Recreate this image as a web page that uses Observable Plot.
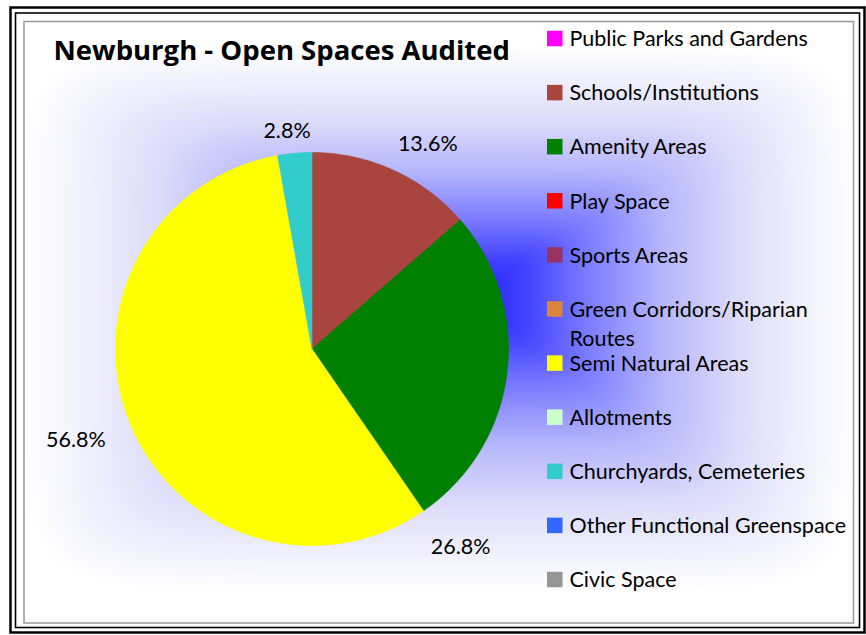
<!DOCTYPE html>
<html><head><meta charset="utf-8">
<script src="https://cdn.jsdelivr.net/npm/d3@7"></script>
<script src="https://cdn.jsdelivr.net/npm/@observablehq/plot@0.6"></script>
<style>html,body{margin:0;padding:0;background:#fff;} svg{display:block}</style>
</head><body><div id="chart"></div>
<script>
// ---- data ----
const categories = ["Public Parks and Gardens","Schools/Institutions","Amenity Areas","Play Space","Sports Areas","Green Corridors/Riparian Routes","Semi Natural Areas","Allotments","Churchyards, Cemeteries","Other Functional Greenspace","Civic Space"];
const shares = [0, 13.6, 26.8, 0, 0, 0, 56.8, 0, 2.8, 0, 0];
const colors = ["#FF00FF","#A9443F","#008000","#FF0000","#993366","#DC843C","#FFFF00","#CCFFCC","#33CCCC","#3366FF","#969696"];
const title = "Newburgh - Open Spaces Audited";

// ---- layout ----
const W = 866, H = 635;
const cx = 311.5, cy = 348.5, R = 196.5;
const labelShift = [0, 5, 46, 0, 0, 0, 1.3, 0, -1.5, 0, 0];      // degrees
const labelDist  = [1.2, 1.197, 1.262, 1.2, 1.2, 1.2, 1.287, 1.2, 1.117, 1.2, 1.2];
const font = "Lato, 'Open Sans', sans-serif";
const titleFont = "'Open Sans', Lato, sans-serif";
const legendX = 547, legendTextX = 569, legendY0 = 38.5, legendStep = 54.1, sw = 15.5;
const fs = 21.5, lineH = 29, maxChars = 28;

// background gradient (rectangular, from centre, slightly softened seams)
const gx0 = 24, gx1 = 853, gy0 = 21, gy1 = 622, gcx = 470, gcy = 295;
const ramp = d3.scaleLinear()
  .domain([0, 0.15, 0.3, 0.5, 0.7, 0.88, 1])
  .range(["#2020ff", "#4444ff", "#7a7aff", "#b6b6fc", "#dcdcfa", "#f2f2fd", "#ffffff"])
  .clamp(true);
function bg(x, y) {
  const tx = x < gcx ? (gcx - x) / (gcx - gx0) : (x - gcx) / (gx1 - gcx);
  const ty = 1.1 * (y < gcy ? (gcy - y) / (gcy - gy0) : (y - gcy) / (gy1 - gcy));
  const p = 8;
  return ramp(Math.pow(Math.pow(tx, p) + Math.pow(ty, p), 1 / p));
}

// pie geometry
const arcs = d3.pie().sort(null).value(d => d)(shares);
const slicePts = [];
const labels = [];
arcs.forEach((a, i) => {
  if (a.value <= 0) return;
  const steps = Math.max(4, Math.ceil((a.endAngle - a.startAngle) / (Math.PI / 360)));
  slicePts.push({k: i, x: cx, y: cy, fill: colors[i]});
  for (let s = 0; s <= steps; s++) {
    const t = a.startAngle + (a.endAngle - a.startAngle) * s / steps;
    slicePts.push({k: i, x: cx + R * Math.sin(t), y: cy - R * Math.cos(t), fill: colors[i]});
  }
  slicePts.push({k: i, x: cx, y: cy, fill: colors[i]});
  const mid = (a.startAngle + a.endAngle) / 2 + labelShift[i] * Math.PI / 180;
  const L = R * labelDist[i];
  labels.push({x: cx + L * Math.sin(mid), y: cy - L * Math.cos(mid), text: d3.format(".1f")(shares[i]) + "%"});
});

function wrap(s) {
  if (s.length <= maxChars) return s;
  const cut = s.lastIndexOf(" ", maxChars);
  return s.slice(0, cut) + "\n" + s.slice(cut + 1);
}
const legendRows = categories.map((c, i) => {
  const label = wrap(c);
  const lines = label.split("\n").length;
  const y = legendY0 + legendStep * i;
  return {label, y, ty: y - 2 + (lines - 1) * lineH / 2, color: colors[i]};
});

const marks = [];
if (Plot.raster) {
  marks.push(Plot.raster({x1: gx0, x2: gx1, y1: gy0, y2: gy1, fill: bg, pixelSize: 1}));
}
marks.push(
  Plot.frame({stroke: "#000", strokeWidth: 2.5, insetLeft: 10, insetTop: 7, insetRight: 2, insetBottom: 3}),
  Plot.frame({stroke: "#000", strokeWidth: 1.6, insetLeft: 15, insetTop: 12.5, insetRight: 7, insetBottom: 8}),
  Plot.frame({stroke: "#999", strokeWidth: 1.5, insetLeft: 23.5, insetTop: 21, insetRight: 13, insetBottom: 12.5}),
  Plot.line(slicePts, {x: "x", y: "y", z: "k", fill: "fill", stroke: "fill", strokeWidth: 0.6, curve: "linear"}),
  Plot.text(labels, {x: "x", y: "y", text: "text", fontSize: fs, fill: "#000", fontFamily: font, textAnchor: "middle"}),
  Plot.text([title], {x: () => 53, y: () => 51, text: d => d, textAnchor: "start", fontSize: 27.5, fontWeight: "bold", fill: "#000", fontFamily: titleFont}),
  Plot.rect(legendRows, {x1: () => legendX, x2: () => legendX + sw, y1: d => d.y - sw / 2, y2: d => d.y + sw / 2, fill: "color"}),
  Plot.text(legendRows, {x: () => legendTextX, y: "ty", text: "label", textAnchor: "start", lineAnchor: "middle", lineHeight: lineH / fs, fontSize: fs, fill: "#000", fontFamily: font})
);

const chart = Plot.plot({
  width: W, height: H, margin: 0,
  x: {domain: [0, W], range: [0, W], axis: null},
  y: {domain: [0, H], range: [0, H], axis: null},
  color: {type: "identity"},
  style: {background: "#fff", fontFamily: font, overflow: "visible"},
  marks
});
document.getElementById("chart").appendChild(chart);
</script>
</body></html>
